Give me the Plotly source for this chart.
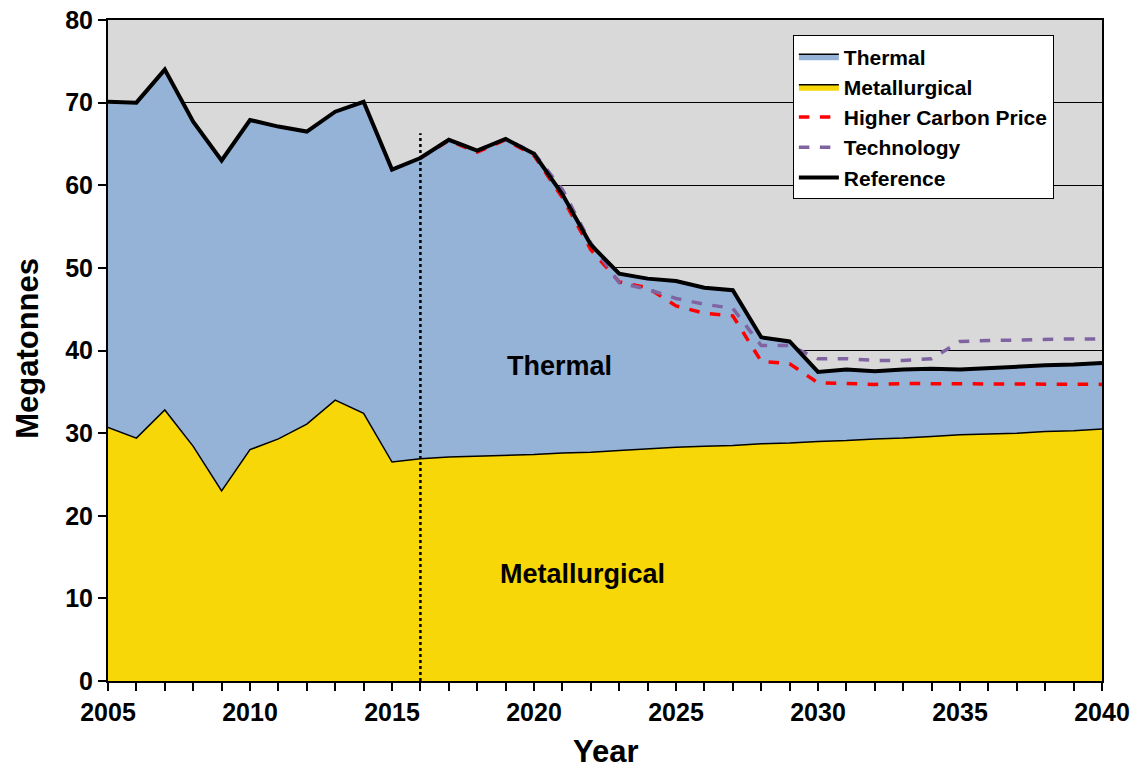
import plotly.graph_objects as go

years = list(range(2005, 2041))

reference = [70.1, 70.0, 74.0, 67.7, 63.0, 67.9, 67.1, 66.5, 68.9, 70.1,
             61.9, 63.3, 65.5, 64.2, 65.6, 63.8, 58.9, 52.8, 49.3, 48.7,
             48.4, 47.6, 47.3, 41.6, 41.1, 37.4, 37.7, 37.5, 37.7, 37.8,
             37.7, 37.9, 38.1, 38.2, 38.3, 38.5]

metallurgical = [30.7, 29.4, 32.8, 28.4, 23.0, 28.0, 29.3, 31.1, 34.0, 32.4,
                 26.5, 26.9, 27.1, 27.2, 27.3, 27.4, 27.6, 27.7, 27.9, 28.1,
                 28.3, 28.4, 28.5, 28.7, 28.8, 29.0, 29.1, 29.3, 29.4, 29.6,
                 29.8, 29.9, 30.0, 30.2, 30.3, 30.5]

scen_years = list(range(2016, 2041))
higher_carbon = [63.3, 65.4, 64.0, 65.5, 63.6, 58.5, 52.2, 48.3, 47.6, 45.4,
                 44.5, 44.2, 38.7, 38.4, 36.1, 36.0, 35.9, 36.0, 36.0, 35.9,
                 35.9, 35.9, 35.9, 35.9, 35.9]
technology = [63.3, 65.5, 64.2, 65.6, 63.9, 59.5, 53.0, 48.2, 47.4, 46.3,
              45.6, 45.1, 40.6, 40.6, 39.0, 39.0, 38.8, 38.8, 39.0, 41.1,
              41.2, 41.3, 41.3, 41.4, 41.4]

FONT = "Liberation Sans, Arial, sans-serif"

fig = go.Figure()

fig.add_trace(go.Scatter(
    x=years, y=metallurgical, name="Metallurgical", mode="lines",
    fill="tozeroy", fillcolor="#F7D708",
    line=dict(color="black", width=1.5), legendrank=2))

fig.add_trace(go.Scatter(
    x=years, y=reference, name="Thermal", mode="lines",
    fill="tonexty", fillcolor="#95B3D7",
    line=dict(color="black", width=1.5), legendrank=1))

fig.add_trace(go.Scatter(
    x=[2016, 2016], y=[0, 66.3], mode="lines", showlegend=False,
    line=dict(color="black", width=2.5, dash="dot"), hoverinfo="skip"))

fig.add_trace(go.Scatter(
    x=scen_years, y=higher_carbon, name="Higher Carbon Price", mode="lines",
    line=dict(color="#FF0000", width=3.5, dash="dash"), legendrank=3))

fig.add_trace(go.Scatter(
    x=scen_years, y=technology, name="Technology", mode="lines",
    line=dict(color="#8064A2", width=3.5, dash="dash"), legendrank=4))

fig.add_trace(go.Scatter(
    x=years, y=reference, name="Reference", mode="lines",
    line=dict(color="black", width=4), legendrank=5))

fig.add_annotation(x=2020.9, y=38.1, text="<b>Thermal</b>", showarrow=False,
                   font=dict(family=FONT, size=27, color="black"))
fig.add_annotation(x=2021.7, y=13.0, text="<b>Metallurgical</b>", showarrow=False,
                   font=dict(family=FONT, size=27, color="black"))

# axis titles as annotations for precise placement
fig.add_annotation(xref="paper", yref="paper", x=0.501, y=-0.107,
                   text="<b>Year</b>", showarrow=False,
                   xanchor="center", yanchor="middle",
                   font=dict(family=FONT, size=31, color="black"))
fig.add_annotation(xref="paper", yref="paper", x=-0.0805, y=0.504,
                   text="<b>Megatonnes</b>", showarrow=False, textangle=-90,
                   xanchor="center", yanchor="middle",
                   font=dict(family=FONT, size=31, color="black"))

fig.update_layout(
    width=1138, height=771,
    margin=dict(l=108, r=36, t=20, b=90, autoexpand=False),
    paper_bgcolor="white", plot_bgcolor="#D9D9D9",
    font=dict(family=FONT, color="black"),
    legend=dict(
        x=0.689, y=0.977, xanchor="left", yanchor="top",
        bgcolor="white", bordercolor="black", borderwidth=1,
        font=dict(family=FONT, size=21, color="black", weight="bold"),
        traceorder="normal", itemwidth=40, tracegroupgap=0,
    ),
    showlegend=True,
)

fig.update_xaxes(
    range=[2005, 2040], tick0=2005, dtick=5, automargin=False,
    showgrid=False, zeroline=False,
    showline=True, linecolor="black", linewidth=2, mirror=True,
    ticks="outside", ticklen=8, tickcolor="black", tickwidth=2,
    minor=dict(dtick=1, ticks="outside", ticklen=8, tickcolor="black", tickwidth=2, showgrid=False),
    tickfont=dict(family=FONT, size=25, color="black", weight="bold"),
)

fig.update_yaxes(
    range=[0, 80], dtick=10, automargin=False,
    showgrid=True, gridcolor="black", gridwidth=1, zeroline=False,
    showline=True, linecolor="black", linewidth=2, mirror=True,
    ticks="outside", ticklen=8, tickcolor="black", tickwidth=2,
    tickfont=dict(family=FONT, size=25, color="black", weight="bold"),
)

fig.write_html("out.html", config={"displayModeBar": False},
               post_script="document.body.style.margin='0';")
